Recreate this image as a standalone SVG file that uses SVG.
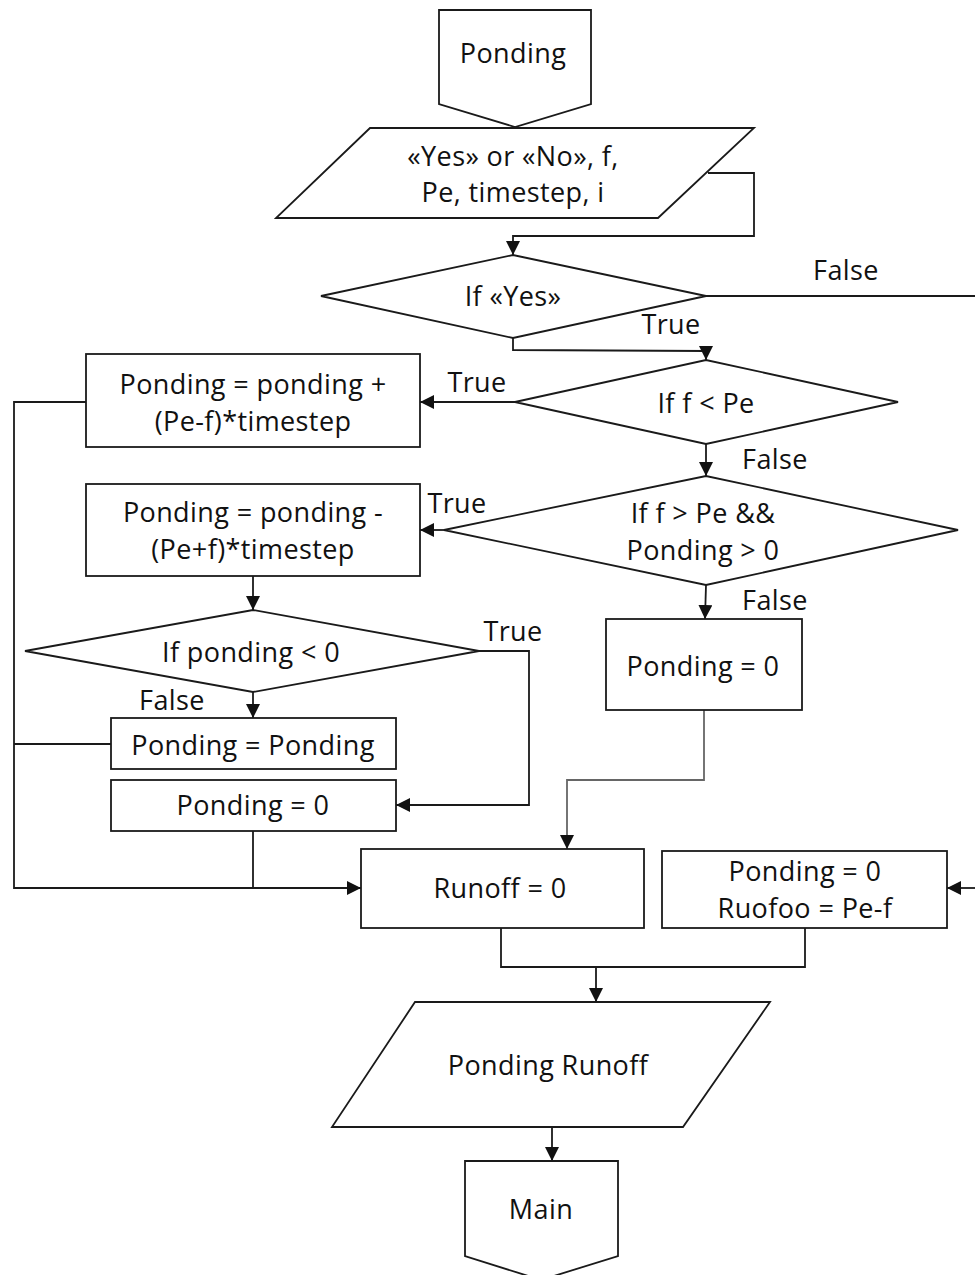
<svg xmlns="http://www.w3.org/2000/svg" width="975" height="1275" viewBox="0 0 975 1275">
  <style>
    .shape { fill: #ffffff; stroke: #1a1a1a; stroke-width: 1.8; }
    .wire { fill: none; stroke: #1a1a1a; stroke-width: 1.8; }
    .wire.grey { stroke: #666666; }
    text { font-family: "Open Sans", "Noto Sans", "DejaVu Sans", sans-serif; font-size: 27px; letter-spacing: 0.4px; fill: #111111; }
    .c { text-anchor: middle; dominant-baseline: central; }
  </style>
  <defs>
    <marker id="arrow" viewBox="0 0 10 10" refX="10" refY="5" markerWidth="14" markerHeight="14" markerUnits="userSpaceOnUse" orient="auto">
      <path d="M0,0 L10,5 L0,10 z" fill="#111111"/>
    </marker>
  </defs>

  <rect width="975" height="1275" fill="#ffffff"/>

  <!-- Connectors -->
  <g id="connectors">
    <polyline class="wire" points="708,173 754,173 754,236 513,236 513,255" marker-end="url(#arrow)"/>
    <line class="wire" x1="706" y1="296" x2="975" y2="296"/>
    <polyline class="wire" points="513,338 513,350 706,351 706,360" marker-end="url(#arrow)"/>
    <line class="wire" x1="515" y1="402" x2="420" y2="402" marker-end="url(#arrow)"/>
    <line class="wire" x1="706" y1="444" x2="706" y2="476" marker-end="url(#arrow)"/>
    <line class="wire" x1="444" y1="530" x2="420" y2="530" marker-end="url(#arrow)"/>
    <line class="wire" x1="253" y1="576" x2="253" y2="610" marker-end="url(#arrow)"/>
    <polyline class="wire" points="479,651 529,651 529,805 396,805" marker-end="url(#arrow)"/>
    <line class="wire" x1="253" y1="692" x2="253" y2="718" marker-end="url(#arrow)"/>
    <line class="wire" x1="706" y1="585" x2="705" y2="619" marker-end="url(#arrow)"/>
    <polyline class="wire" points="86,402 14,402 14,888 361,888" marker-end="url(#arrow)"/>
    <line class="wire" x1="111" y1="744" x2="14" y2="744"/>
    <line class="wire" x1="253" y1="831" x2="253" y2="888"/>
    <polyline class="wire grey" points="704,710 704,780 567,780 567,849" marker-end="url(#arrow)"/>
    <line class="wire" x1="975" y1="888" x2="947" y2="888" marker-end="url(#arrow)"/>
    <polyline class="wire" points="501,928 501,967 805,967 805,928"/>
    <line class="wire" x1="596" y1="967" x2="596" y2="1002" marker-end="url(#arrow)"/>
    <line class="wire" x1="552" y1="1127" x2="552" y2="1161" marker-end="url(#arrow)"/>
  </g>

  <!-- Edge labels -->
  <g id="labels">
    <text x="846" y="269" class="c">False</text>
    <text x="671" y="323" class="c">True</text>
    <text x="477" y="381" class="c">True</text>
    <text x="775" y="458" class="c">False</text>
    <text x="457" y="502" class="c">True</text>
    <text x="775" y="599" class="c">False</text>
    <text x="513" y="630" class="c">True</text>
    <text x="172" y="699" class="c">False</text>
  </g>

  <!-- Nodes -->
  <g id="start">
    <polygon class="shape" points="439,10 591,10 591,104 515,127 439,104"/>
    <text x="513" y="52" class="c">Ponding</text>
  </g>
  <g id="input">
    <polygon class="shape" points="370,128 754,128 658,218 276,218"/>
    <text x="513" y="155" class="c">«Yes» or «No», f,</text>
    <text x="513" y="191" class="c">Pe, timestep, i</text>
  </g>
  <g id="if-yes">
    <polygon class="shape" points="321,296 513,255 706,296 513,338"/>
    <text x="513" y="295" class="c">If «Yes»</text>
  </g>
  <g id="if-f-lt-pe">
    <polygon class="shape" points="515,402 706,360 898,402 706,444"/>
    <text x="706" y="402" class="c">If f &lt; Pe</text>
  </g>
  <g id="ponding-plus">
    <rect class="shape" x="86" y="354" width="334" height="93"/>
    <text x="253" y="383" class="c">Ponding = ponding +</text>
    <text x="253" y="420" class="c">(Pe-f)*timestep</text>
  </g>
  <g id="if-f-gt-pe">
    <polygon class="shape" points="444,530 706,476 958,530 706,585"/>
    <text x="703" y="512" class="c">If f &gt; Pe &amp;&amp;</text>
    <text x="703" y="549" class="c">Ponding &gt; 0</text>
  </g>
  <g id="ponding-minus">
    <rect class="shape" x="86" y="484" width="334" height="92"/>
    <text x="253" y="511" class="c">Ponding = ponding -</text>
    <text x="253" y="548" class="c">(Pe+f)*timestep</text>
  </g>
  <g id="if-ponding-lt-0">
    <polygon class="shape" points="25,651 253,610 479,651 253,692"/>
    <text x="251" y="651" class="c">If ponding &lt; 0</text>
  </g>
  <g id="ponding-keep">
    <rect class="shape" x="111" y="718" width="285" height="51"/>
    <text x="253" y="744" class="c">Ponding = Ponding</text>
  </g>
  <g id="ponding-zero-left">
    <rect class="shape" x="111" y="780" width="285" height="51"/>
    <text x="253" y="804" class="c">Ponding = 0</text>
  </g>
  <g id="ponding-zero-right">
    <rect class="shape" x="606" y="619" width="196" height="91"/>
    <text x="703" y="665" class="c">Ponding = 0</text>
  </g>
  <g id="runoff-zero">
    <rect class="shape" x="361" y="849" width="283" height="79"/>
    <text x="500" y="887" class="c">Runoff = 0</text>
  </g>
  <g id="runoff-excess">
    <rect class="shape" x="662" y="851" width="285" height="77"/>
    <text x="805" y="870" class="c">Ponding = 0</text>
    <text x="805" y="907" class="c">Ruofoo = Pe-f</text>
  </g>
  <g id="output">
    <polygon class="shape" points="415,1002 770,1002 683,1127 332,1127"/>
    <text x="548" y="1064" class="c">Ponding Runoff</text>
  </g>
  <g id="main">
    <polygon class="shape" points="465,1161 618,1161 618,1256 541,1280 465,1256"/>
    <text x="541" y="1208" class="c">Main</text>
  </g>
</svg>
